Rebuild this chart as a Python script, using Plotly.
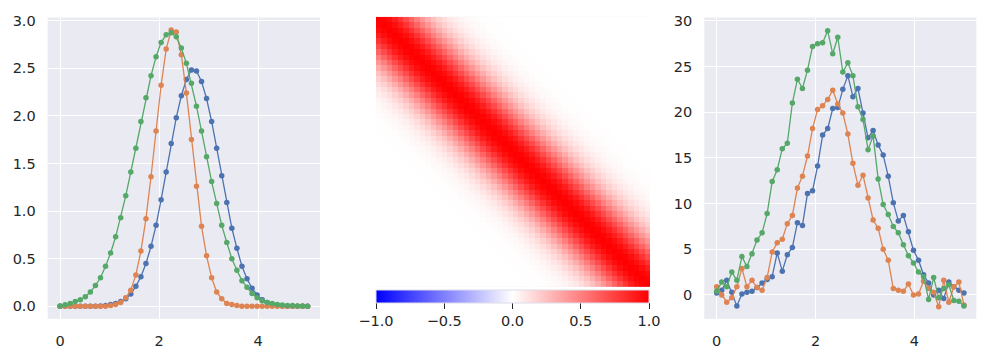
import numpy as np
import plotly.graph_objects as go

W, H = 987, 358

# ---------------- data ----------------
x_vals = np.linspace(0, 5, 50).tolist()

left_blue = [0.0, 0.0, 0.0, 0.0, 0.0, 0.0, 0.0, 0.002, 0.005, 0.01,
             0.02, 0.03, 0.05, 0.08, 0.13, 0.21, 0.31, 0.45, 0.63, 0.85,
             1.12, 1.41, 1.71, 1.98, 2.21, 2.38, 2.48, 2.47, 2.36, 2.18,
             1.94, 1.66, 1.37, 1.09, 0.82, 0.61, 0.42, 0.29, 0.19, 0.12,
             0.07, 0.04, 0.02, 0.01, 0.005, 0.002, 0.0, 0.0, 0.0, 0.0]
left_orange = [0.0, 0.0, 0.0, 0.0, 0.0, 0.0, 0.0, 0.0, 0.0, 0.002,
               0.01, 0.02, 0.04, 0.09, 0.17, 0.33, 0.58, 0.92, 1.36, 1.84,
               2.32, 2.70, 2.90, 2.88, 2.64, 2.24, 1.75, 1.26, 0.84, 0.53,
               0.30, 0.15, 0.08, 0.03, 0.02, 0.01, 0.0, 0.0, 0.0, 0.0,
               0.0, 0.0, 0.0, 0.0, 0.0, 0.0, 0.0, 0.0, 0.0, 0.0]
left_green = [0.005, 0.017, 0.03, 0.05, 0.07, 0.10, 0.15, 0.22, 0.30, 0.42,
              0.56, 0.73, 0.93, 1.16, 1.41, 1.66, 1.94, 2.19, 2.42, 2.62,
              2.77, 2.85, 2.87, 2.83, 2.71, 2.55, 2.34, 2.10, 1.84, 1.57,
              1.31, 1.08, 0.85, 0.67, 0.50, 0.38, 0.27, 0.20, 0.135, 0.09,
              0.06, 0.04, 0.03, 0.02, 0.015, 0.01, 0.008, 0.005, 0.003, 0.002]

right_blue = [0.2, 0.5, 1.6, 0.3, -1.2, 0.1, 0.3, 0.4, 0.8, 1.3,
              1.7, 2.0, 4.6, 2.6, 4.4, 5.2, 7.9, 7.6, 11.1, 11.4,
              14.1, 17.5, 18.2, 20.4, 20.5, 22.5, 24.0, 21.7, 22.6, 19.9,
              17.2, 18.0, 16.4, 15.3, 13.0, 10.1, 8.1, 8.7, 6.9, 4.9,
              3.8, 2.2, 1.3, 0.0, 0.5, -0.4, 1.4, 0.9, 0.5, 0.2]
right_orange = [0.9, 0.0, -0.8, -0.3, 0.9, 2.9, 0.9, 1.6, 0.8, 0.5,
                1.9, 4.7, 5.7, 6.1, 7.8, 8.7, 11.7, 13.0, 15.2, 18.2,
                20.3, 20.7, 21.4, 22.4, 20.9, 19.9, 17.6, 14.4, 12.0, 13.1,
                10.6, 8.2, 7.3, 5.0, 3.8, 0.7, 0.5, 0.4, 1.2, 0.0,
                0.1, 1.5, 0.7, 0.3, -1.3, 1.6, -0.8, 0.9, 1.4, -1.1]
right_green = [0.4, 1.4, 0.9, 2.5, 1.6, 4.2, 3.1, 4.5, 6.0, 6.8,
               8.9, 12.4, 13.7, 16.0, 16.6, 21.0, 23.6, 22.6, 24.6, 27.2,
               27.5, 27.6, 28.9, 26.4, 28.2, 24.4, 25.4, 24.0, 20.6, 19.2,
               15.9, 17.4, 12.7, 9.9, 8.8, 7.5, 6.8, 5.5, 4.3, 3.5,
               2.5, 2.0, -0.5, 1.9, -0.3, 0.7, 1.1, -0.6, -0.7, -1.2]

# correlation as a function of the index distance |i - j|
corr_by_lag = [1.00, 0.986, 0.946, 0.882, 0.801, 0.707, 0.607, 0.506, 0.411, 0.325,
               0.249, 0.186, 0.135, 0.096, 0.066, 0.044, 0.029, 0.018, 0.011, 0.007,
               0.004, 0.002, 0.001]
n_cells = 50

left_yticks = [0.0, 0.5, 1.0, 1.5, 2.0, 2.5, 3.0]
right_yticks = [0, 5, 10, 15, 20, 25, 30]
x_ticks = [0, 2, 4]
cbar_ticks = [-1.0, -0.5, 0.0, 0.5, 1.0]
cbar_ticktext = ["\u22121.0", "\u22120.5", "0.0", "0.5", "1.0"]

# build correlation matrix table
corr = [[corr_by_lag[abs(i - j)] if abs(i - j) < len(corr_by_lag) else 0.0
         for j in range(n_cells)] for i in range(n_cells)]

# ---------------- styling ----------------
colors = ["#4C72B0", "#DD8452", "#55A868"]
BG = "#EAEAF2"
TXT = "#262626"
FONT = "DejaVu Sans"
FS = 14.5

def px_dom(a, b, total):
    return [a / total, b / total]

def ydom(top, bottom):
    return [(H - bottom) / H, (H - top) / H]

fig = go.Figure()

for ys, c in zip([left_blue, left_orange, left_green], colors):
    fig.add_trace(go.Scatter(x=x_vals, y=ys, mode="lines+markers",
                             line=dict(color=c, width=1.3),
                             marker=dict(color=c, size=5.5),
                             xaxis="x", yaxis="y", showlegend=False))

fig.add_trace(go.Heatmap(z=corr, zmin=-1, zmax=1,
                         colorscale=[[0, "rgb(0,0,255)"], [0.5, "rgb(255,255,255)"], [1, "rgb(255,0,0)"]],
                         xaxis="x2", yaxis="y2",
                         colorbar=dict(orientation="h", x=(376 + 649) / 2 / W, xanchor="center",
                                       len=(649 - 376) / W, lenmode="fraction",
                                       y=(H - 289) / H, yanchor="top", thickness=13,
                                       xpad=0, ypad=0,
                                       outlinewidth=1, outlinecolor="#dcdce8",
                                       tickvals=cbar_ticks, ticktext=cbar_ticktext,
                                       ticks="outside", ticklen=6, tickwidth=1.3, tickcolor=TXT,
                                       tickfont=dict(family=FONT, size=FS, color=TXT))))

for ys, c in zip([right_blue, right_orange, right_green], colors):
    fig.add_trace(go.Scatter(x=x_vals, y=ys, mode="lines+markers",
                             line=dict(color=c, width=1.3),
                             marker=dict(color=c, size=5.5),
                             xaxis="x3", yaxis="y3", showlegend=False))

axis_common = dict(showgrid=True, gridcolor="white", gridwidth=1.4, zeroline=False,
                   showline=False, ticks="", tickfont=dict(family=FONT, size=FS, color=TXT))

fig.update_layout(
    width=W, height=H, margin=dict(l=0, r=0, t=0, b=0),
    paper_bgcolor="white", plot_bgcolor=BG,
    font=dict(family=FONT, size=FS, color=TXT),
    xaxis=dict(domain=px_dom(47.7, 320, W), range=[-0.25, 5.25], tickvals=x_ticks,
               anchor="y", ticklabelstandoff=12, **axis_common),
    yaxis=dict(domain=ydom(12.7, 318.3), range=[-0.131, 3.031], tickvals=left_yticks,
               tickformat=".1f", anchor="x", ticklabelstandoff=11, **axis_common),
    xaxis2=dict(domain=px_dom(376, 650, W), range=[-0.5, 49.5], visible=False, anchor="y2"),
    yaxis2=dict(domain=ydom(12, 286), range=[49.5, -0.5], visible=False, anchor="x2"),
    xaxis3=dict(domain=px_dom(704.3, 976.3, W), range=[-0.25, 5.25], tickvals=x_ticks,
                anchor="y3", ticklabelstandoff=12, **axis_common),
    yaxis3=dict(domain=ydom(12.7, 318.3), range=[-2.62, 30.36], tickvals=right_yticks,
                anchor="x3", ticklabelstandoff=11, **axis_common),
)

fig.write_html("out.html")
